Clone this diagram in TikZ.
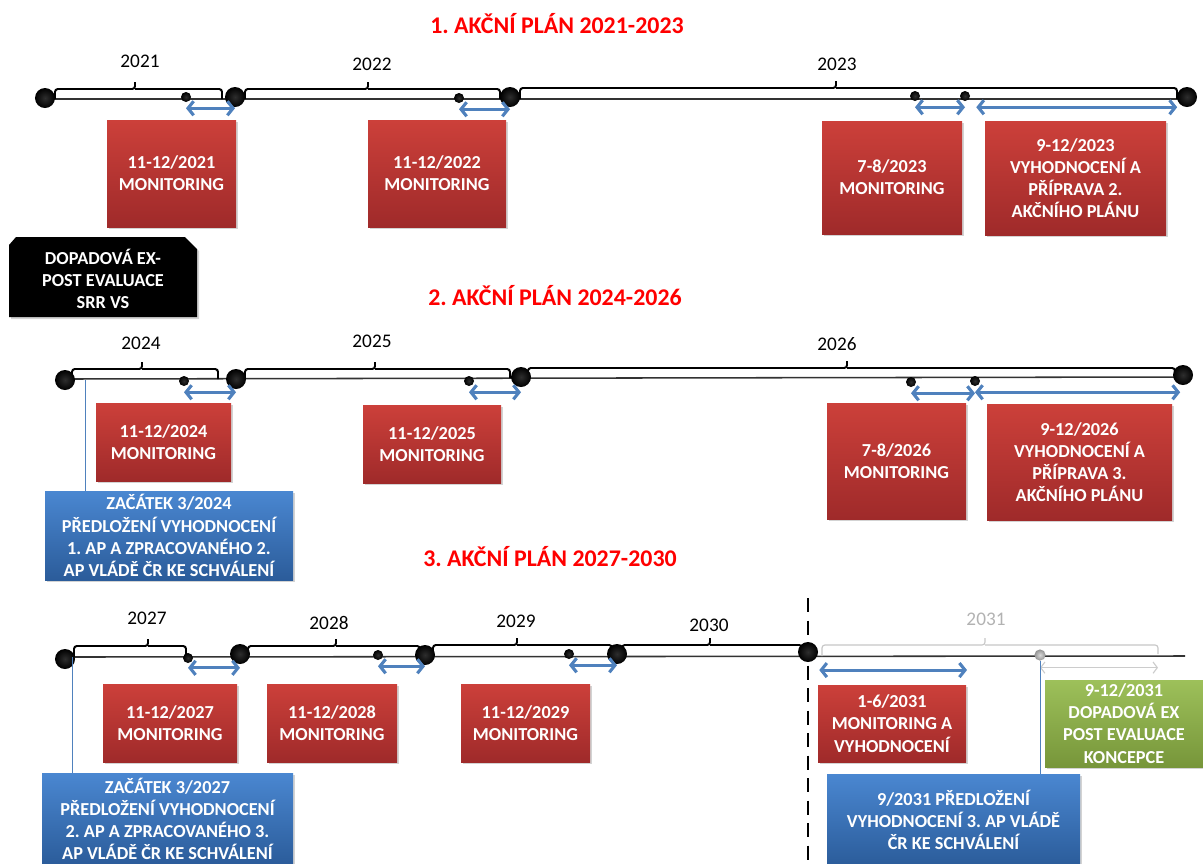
\documentclass[tikz,border=0pt]{standalone}
\usepackage{fontspec}
\setmainfont{Carlito}
\usetikzlibrary{arrows.meta,shadows,shapes.misc}

\definecolor{redtop}{HTML}{CC403A}
\definecolor{redbot}{HTML}{9F2A2A}
\definecolor{bluetop}{HTML}{4A87D1}
\definecolor{bluebot}{HTML}{2B5C9A}
\definecolor{greentop}{HTML}{9DC05A}
\definecolor{greenbot}{HTML}{77963A}
\definecolor{spanblue}{HTML}{4F81BD}

\begin{document}
\frenchspacing
\begin{tikzpicture}[x = 0.025cm, y = -0.025cm,
    bigdot/.style = {circle, inner color = black!82, outer color = black, minimum size = 0.5cm, inner sep = 0pt},
    smalldot/.style = {circle, inner color = black!82, outer color = black, minimum size = 0.25cm, inner sep = 0pt},
    greydot/.style = {circle, inner color = gray!30, outer color = gray!85, minimum size = 0.28cm, inner sep = 0pt},
    wh/.style 2 args = {minimum width = #1*0.025cm, minimum height = #2*0.025cm},
    label/.style = {inner sep = 0pt, align = center, text = white,
                    font = \fontsize{13}{15.8}\selectfont\bfseries},
    card/.style = {label, drop shadow = {shadow xshift = 1.5pt, shadow yshift = -1.5pt, opacity = 0.35}},
    redbox/.style = {card, top color = redtop, bottom color = redbot},
    bluebox/.style = {card, top color = bluetop, bottom color = bluebot},
    greenbox/.style = {card, top color = greentop, bottom color = greenbot},
    year/.style = {font = \fontsize{13.7}{16}\selectfont},
    title/.style = {text = red, font = \fontsize{17}{20}\selectfont\bfseries},
    axis/.style = {line width = 1.1pt, black!80},
    brace/.style = {line width = 1.4pt, rounded corners = 2pt},
    span/.style = {line width = 2.2pt, spanblue,
                   arrows = {Straight Barb[length = 4pt, width = 10pt]-Straight Barb[length = 4pt, width = 10pt]}},
    link/.style = {line width = 0.6pt, spanblue}]

  \useasboundingbox (0, 0) rectangle (1203, 863);

  % 1. akcni plan
  \node [title] (t1) at (557, 24) {1. AKČNÍ PLÁN 2021-2023};

  \draw [axis] (45, 99) -- (1187, 99);
  \draw [brace] (55, 99) |- (135, 89) -- ++(0, -7) (135, 89) -| (222, 99);
  \draw [brace] (245, 99) |- (368, 89) -- ++(0, -7) (368, 89) -| (500, 99);
  \draw [brace] (520, 99) |- (836, 88) -- ++(0, -7) (836, 88) -| (1177, 99);

  \node [year] (y21) at (140, 61) {2021};
  \node [year] (y22) at (372, 64) {2022};
  \node [year] (y23) at (837, 64) {2023};

  \node [bigdot] (a1) at (45, 98){};
  \node [bigdot] (a2) at (235, 97){};
  \node [bigdot] (a3) at (510, 97){};
  \node [bigdot] (a4) at (1187, 97){};
  \node [smalldot] (s21) at (186, 97){};
  \node [smalldot] (s22) at (459, 98){};
  \node [smalldot] (s23) at (915, 96){};
  \node [smalldot] (u23) at (965, 96){};

  \draw [span] ([yshift = -8pt]s21.center) -- ([yshift = -8pt]s21.center -| a2.center);
  \draw [span] ([yshift = -8pt]s22.center) -- ([yshift = -8pt]s22.center -| a3.center);
  \draw [span] ([yshift = -8pt]s23.center) -- ([yshift = -8pt]s23.center -| u23.center);
  \draw [span, shorten <= 8pt, shorten >= 7pt] ([yshift = -8pt]u23.center) -- ([yshift = -8pt]u23.center -| a4.center);

  \node [redbox, wh = {129}{107}] (m21) at (171.5, 173.5) {11-12/2021\\MONITORING};
  \node [redbox, wh = {138}{107}] (m22) at (437, 173.5) {11-12/2022\\MONITORING};
  \node [redbox, wh = {140}{113}] (m23) at (892, 177.5) {7-8/2023\\MONITORING};
  \node [redbox, wh = {181}{114}] (v23) at (1075.5, 178) {9-12/2023\\VYHODNOCENÍ A\\PŘÍPRAVA 2.\\AKČNÍHO PLÁNU};

  % cerny stitek se seriznutymi rohy
  \fill [black, drop shadow = {shadow xshift = 1.5pt, shadow yshift = -1.5pt, opacity = 0.35}]
        (9, 245) -- (16, 237) -- (185, 237) -- (197, 249) -- (197, 317) -- (9, 317) -- cycle;
  \node [label] (ev) at (103, 279) {DOPADOVÁ EX-\\POST EVALUACE\\SRR VS};

  % 2. akcni plan
  \node [title] (t2) at (555, 296) {2. AKČNÍ PLÁN 2024-2026};

  \draw [axis] (65, 379) -- (1183, 377);
  \draw [brace] (72, 379) |- (142, 369) -- ++(0, -7) (142, 369) -| (218, 379);
  \draw [brace] (245, 379) |- (375, 369) -- ++(0, -7) (375, 369) -| (510, 378);
  \draw [brace] (528, 378) |- (847, 368) -- ++(0, -7) (847, 368) -| (1175, 376);

  \node [year] (y24) at (141, 343) {2024};
  \node [year] (y25) at (372, 341) {2025};
  \node [year] (y26) at (837, 344) {2026};

  \node [bigdot] (b1) at (65, 380){};
  \node [bigdot] (b2) at (236, 379){};
  \node [bigdot] (b3) at (521, 377){};
  \node [bigdot] (b4) at (1183, 375){};
  \node [smalldot] (s24) at (184, 381){};
  \node [smalldot] (s25) at (469, 381){};
  \node [smalldot] (s26) at (911, 382){};
  \node [smalldot] (u26) at (975, 381){};
  \coordinate (p24) at (85, 380);

  \draw [span] ([yshift = -8pt]s24.center) -- ([yshift = -8pt]s24.center -| b2.center);
  \draw [span] ([yshift = -8pt]s25.center) -- ([yshift = -8pt]s25.center -| b3.center);
  \draw [span] ([yshift = -8pt]s26.center) -- ([yshift = -8pt]s26.center -| u26.center);
  \draw [span, shorten >= 2pt] ([yshift = -8pt]u26.center) -- ([yshift = -8pt]u26.center -| b4.center);

  \node [redbox, wh = {135}{78}] (m24) at (163.5, 442) {11-12/2024\\MONITORING};
  \node [redbox, wh = {138}{78}] (m25) at (432, 444) {11-12/2025\\MONITORING};
  \node [redbox, wh = {139}{116}] (m26) at (896.5, 461) {7-8/2026\\MONITORING};
  \node [redbox, wh = {185}{116}] (v26) at (1079.5, 462) {9-12/2026\\VYHODNOCENÍ A\\PŘÍPRAVA 3.\\AKČNÍHO PLÁNU};
  \node [bluebox, wh = {248}{89}] (z24) at (169, 535.5)
        {ZAČÁTEK 3/2024\\PŘEDLOŽENÍ VYHODNOCENÍ\\1. AP A ZPRACOVANÉHO 2.\\AP VLÁDĚ ČR KE SCHVÁLENÍ};

  \draw [link] (p24) -- (z24.north -| p24);

  % 3. akcni plan
  \node [title] (t3) at (550, 557) {3. AKČNÍ PLÁN 2027-2030};

  \draw [line width = 2pt, dash pattern = on 10pt off 6pt] (808, 598) -- (808, 866);
  \draw [axis] (65, 657) -- (1185, 656);
  \draw [brace] (74, 657) |- (148, 646) -- ++(0, -7) (148, 646) -| (186, 656);
  \draw [brace] (248, 655) |- (336, 646) -- ++(0, -7) (336, 646) -| (420, 656);
  \draw [brace] (433, 655) |- (517, 645) -- ++(0, -7) (517, 645) -| (612, 655);
  \draw [brace] (622, 654) |- (710, 645) -- ++(0, -7) (710, 645) -| (802, 654);
  \draw [brace, line width = 0.8pt, gray!45] (822, 656) |- (985, 645) -- ++(0, -7) (985, 645) -| (1158, 654);

  \node [year] (y27) at (147, 618) {2027};
  \node [year] (y28) at (329, 623) {2028};
  \node [year] (y29) at (516, 621) {2029};
  \node [year] (y30) at (709, 625) {2030};
  \node [year, text = gray!60] (y31) at (986, 619) {2031};

  \node [bigdot] (c1) at (65, 659){};
  \node [bigdot] (c2) at (240, 654){};
  \node [bigdot] (c3) at (425, 655){};
  \node [bigdot] (c4) at (617, 654){};
  \node [bigdot] (c5) at (808, 652){};
  \node [smalldot] (s27) at (188, 658){};
  \node [smalldot] (s28) at (378, 655){};
  \node [smalldot] (s29) at (569, 654){};
  \node [greydot] (g31) at (1040, 655){};
  \coordinate (p27) at (72, 657);
  \coordinate (h31) at (967, 656);
  \coordinate (e31) at (1158, 656);

  \draw [span] ([yshift = -7pt]s27.center) -- ([yshift = -7pt]s27.center -| c2.center);
  \draw [span] ([yshift = -8pt]s28.center) -- ([yshift = -8pt]s28.center -| c3.center);
  \draw [span] ([yshift = -8pt]s29.center) -- ([yshift = -8pt]s29.center -| c4.center);
  \draw [span, shorten <= 8pt] ([yshift = -10pt]h31 -| c5.center) -- ([yshift = -10pt]h31);
  \draw [line width = 0.8pt, gray!40,
         arrows = {Straight Barb[length = 3pt, width = 8pt]-Straight Barb[length = 3pt, width = 8pt]}]
        ([yshift = -9pt]g31.center) -- ([yshift = -9pt]g31.center -| e31);

  \node [redbox, wh = {134}{78}] (m27) at (170, 723) {11-12/2027\\MONITORING};
  \node [redbox, wh = {130}{78}] (m28) at (332, 723) {11-12/2028\\MONITORING};
  \node [redbox, wh = {129}{78}] (m29) at (525.5, 723) {11-12/2029\\MONITORING};
  \node [redbox, wh = {148}{77}] (m31) at (892, 723.5) {1-6/2031\\MONITORING A\\VYHODNOCENÍ};
  \node [greenbox, wh = {158}{87}] (d31) at (1124, 723.5) {9-12/2031\\DOPADOVÁ EX\\POST EVALUACE\\KONCEPCE};
  \node [bluebox, wh = {251}{92}] (z27) at (167.5, 819)
        {ZAČÁTEK 3/2027\\PŘEDLOŽENÍ VYHODNOCENÍ\\2. AP A ZPRACOVANÉHO 3.\\AP VLÁDĚ ČR KE SCHVÁLENÍ};
  \node [bluebox, wh = {253}{92}] (v31) at (953.5, 820)
        {9/2031 PŘEDLOŽENÍ\\VYHODNOCENÍ 3. AP VLÁDĚ\\ČR KE SCHVÁLENÍ};

  \draw [link] (p27) -- (z27.north -| p27);
  \draw [link] (g31) -- (v31.north -| g31);

\end{tikzpicture}
\end{document}
